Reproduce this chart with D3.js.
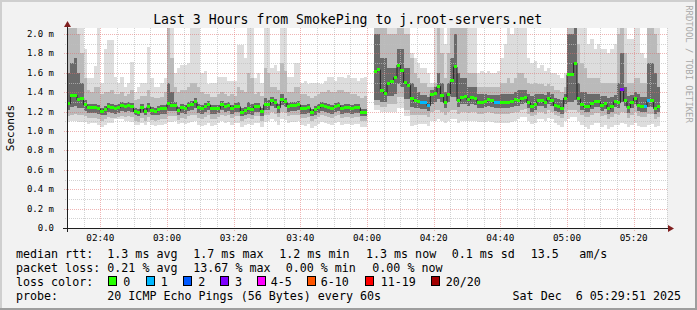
<!DOCTYPE html>
<html><head><meta charset="utf-8">
<script src="https://cdn.jsdelivr.net/npm/d3@7"></script>
<style>
body{margin:0;background:#f2f2f2}
svg{display:block}
text{font-family:"DejaVu Sans Mono",monospace;fill:#000;white-space:pre}
</style>
</head><body>
<svg id="chart" width="697" height="310"></svg>
<script>
// ---------------- DATA ----------------
const title = "Last 3 Hours from SmokePing to j.root-servers.net";
const startTime = Date.UTC(2025, 11, 6, 2, 30);   // first step
const endTime = Date.UTC(2025, 11, 6, 5, 30);     // right edge of graph
const stepMinutes = 1;
const yMax = 2.0619;
const yTickLabels = ["0.0", "0.2 m", "0.4 m", "0.6 m", "0.8 m", "1.0 m", "1.2 m", "1.4 m", "1.6 m", "1.8 m", "2.0 m"];
const yTickValues = [0, 0.2, 0.4, 0.6, 0.8, 1.0, 1.2, 1.4, 1.6, 1.8, 2.0];

// median rtt per minute (ms)
const median = [
1.28,1.37,1.37,1.32,1.34,1.27,1.24,1.24,1.24,1.23,1.20,1.22,1.25,1.24,1.23,1.24,1.26,1.25,1.26,1.25,1.20,1.19,1.24,1.20,1.25,1.21,1.20,1.22,1.23,1.23,1.28,1.26,1.26,1.21,1.24,1.23,1.26,1.27,1.30,1.24,1.23,1.25,1.27,1.23,1.23,
1.23,1.27,1.25,1.26,1.23,1.25,1.25,1.19,1.21,1.23,1.22,1.25,1.25,1.20,1.27,1.27,1.31,1.29,1.24,1.32,1.30,1.25,1.26,1.26,1.27,1.23,1.23,1.24,1.19,1.22,1.24,1.26,1.25,1.24,1.23,1.25,1.26,1.23,1.24,1.24,1.23,1.24,1.24,1.19,1.19,
null,null,
1.61,1.63,1.42,1.39,1.49,1.51,1.55,1.68,1.62,1.50,1.47,1.34,1.31,1.30,1.29,1.29,1.26,1.38,1.39,1.46,1.37,1.29,1.38,1.52,1.66,1.31,1.35,1.36,1.32,1.35,1.33,1.29,1.29,1.30,1.32,1.31,1.29,1.29,1.29,1.29,1.29,1.30,1.32,
1.31,1.33,1.35,1.29,1.25,1.27,1.31,1.31,1.29,1.34,1.31,1.26,1.25,1.23,1.34,1.58,1.58,1.70,1.33,1.27,1.25,1.25,1.28,1.30,1.30,1.26,1.28,1.23,1.25,1.30,1.29,1.43,1.31,1.24,1.29,1.34,1.26,1.25,1.25,1.31,1.31,1.23,1.25];

// lost pings (of 20) per minute
const lossCount = median.map(()=>0);
[106,107,108,128,129,173,174].forEach(i=>lossCount[i]=1);
lossCount[166]=3;

// smoke: top / bottom of outer (lightest), middle and core (darkest) bands
const smokeMax = [
2.3,2.3,2.3,2.3,2.3,1.85,1.55,1.55,1.67,2.3,1.5,1.85,1.94,1.94,1.56,1.5,1.56,1.45,1.5,1.71,1.4,1.45,1.5,1.5,1.87,1.55,1.45,1.45,1.5,1.55,2.3,2.3,1.6,1.65,1.68,1.68,1.7,2.3,2.3,2.3,1.6,1.62,1.48,1.5,1.5,
1.56,1.56,1.56,1.52,1.52,1.52,1.89,1.89,1.75,2.3,2.3,1.55,1.6,1.5,2.3,2.3,1.65,1.68,1.62,2.3,2.3,1.56,1.56,1.7,1.7,1.5,1.52,1.48,1.5,1.5,1.5,1.48,1.52,1.56,1.56,1.52,1.56,1.56,1.55,1.58,1.55,1.55,1.52,1.55,1.56,
null,null,
2.3,2.3,2.3,2.3,2.3,2.3,2.3,2.3,2.3,2.3,2.3,1.8,1.75,1.7,1.65,1.65,1.6,1.5,2.3,2.3,2.3,1.9,2.3,2.3,2.3,2.3,2.3,2.3,2.3,2.3,2.3,1.6,1.62,1.6,1.62,1.6,1.6,1.62,1.75,1.9,2.3,2.0,2.3,
2.3,2.3,2.3,1.75,1.7,1.72,1.65,1.68,1.62,1.65,1.6,1.6,1.58,1.55,1.6,2.3,2.3,2.3,2.3,2.3,2.3,1.9,1.95,1.85,1.9,1.85,1.85,1.8,1.85,1.9,2.3,2.3,2.3,1.95,1.95,2.3,2.3,1.8,1.75,2.3,2.3,2.3,2.3];
const smokeHi = [
2.3,2.3,2.3,2.0,1.8,1.55,1.42,1.40,1.45,1.45,1.38,1.4,1.4,1.42,1.38,1.38,1.4,1.36,1.38,1.42,1.32,1.33,1.36,1.36,1.42,1.35,1.34,1.34,1.35,1.4,2.3,1.75,1.45,1.4,1.42,1.42,1.45,1.5,1.5,1.45,1.4,1.38,1.38,1.35,1.35,
1.38,1.4,1.38,1.36,1.38,1.36,1.45,1.42,1.4,1.6,1.55,1.38,1.4,1.36,1.65,1.6,1.45,1.45,1.42,1.7,1.62,1.4,1.4,1.45,1.45,1.38,1.38,1.36,1.34,1.36,1.38,1.4,1.4,1.42,1.4,1.4,1.42,1.42,1.4,1.4,1.38,1.38,1.36,1.34,1.36,
null,null,
2.3,2.3,2.3,2.3,2.0,2.0,2.0,2.3,2.3,2.0,2.0,1.75,1.6,1.55,1.5,1.5,1.45,1.45,1.5,2.3,1.8,1.55,1.8,2.3,2.3,2.3,2.3,2.3,1.6,1.6,1.6,1.45,1.45,1.45,1.45,1.45,1.45,1.45,1.5,1.5,1.55,1.5,1.55,
1.6,1.6,1.55,1.5,1.48,1.5,1.48,1.48,1.46,1.48,1.46,1.42,1.42,1.4,1.45,2.3,2.3,2.3,1.9,1.7,1.65,1.55,1.55,1.55,1.55,1.5,1.5,1.5,1.5,1.5,2.0,2.3,1.8,1.5,1.5,1.55,1.55,1.5,1.5,2.3,2.3,2.0,1.8];
const smokeCore = [
1.6,1.7,1.75,1.6,1.5,1.32,1.28,1.28,1.28,1.27,1.24,1.26,1.29,1.28,1.27,1.28,1.3,1.29,1.3,1.29,1.24,1.23,1.28,1.24,1.29,1.25,1.24,1.26,1.27,1.27,1.5,1.4,1.3,1.25,1.28,1.27,1.3,1.31,1.34,1.28,1.27,1.29,1.31,1.27,1.27,
1.27,1.31,1.29,1.3,1.27,1.29,1.3,1.24,1.25,1.3,1.28,1.29,1.29,1.24,1.34,1.32,1.35,1.33,1.28,1.38,1.34,1.29,1.3,1.3,1.31,1.27,1.27,1.28,1.23,1.26,1.28,1.3,1.29,1.28,1.27,1.29,1.3,1.27,1.28,1.28,1.27,1.28,1.28,1.23,1.23,
null,null,
2.0,2.0,1.75,1.75,1.65,1.65,1.65,1.85,1.85,1.65,1.65,1.5,1.45,1.4,1.37,1.37,1.35,1.42,1.45,1.6,1.5,1.4,1.5,1.75,2.0,1.6,1.55,1.55,1.45,1.45,1.45,1.38,1.38,1.38,1.37,1.37,1.37,1.37,1.38,1.38,1.38,1.38,1.4,
1.42,1.42,1.42,1.38,1.36,1.38,1.38,1.38,1.37,1.4,1.38,1.34,1.33,1.32,1.38,2.0,2.0,2.2,1.5,1.4,1.4,1.38,1.38,1.38,1.38,1.36,1.36,1.34,1.35,1.37,1.5,1.8,1.45,1.36,1.37,1.4,1.38,1.35,1.35,1.7,1.7,1.6,1.45];
const smokeCoreLo = [
1.22,1.25,1.26,1.24,1.24,1.21,1.19,1.19,1.19,1.18,1.16,1.17,1.2,1.19,1.18,1.19,1.21,1.2,1.21,1.2,1.16,1.15,1.19,1.16,1.2,1.17,1.16,1.17,1.18,1.18,1.21,1.21,1.21,1.17,1.19,1.18,1.21,1.22,1.24,1.19,1.18,1.2,1.22,1.18,1.18,
1.19,1.22,1.2,1.21,1.18,1.2,1.2,1.15,1.17,1.18,1.17,1.2,1.2,1.15,1.22,1.22,1.26,1.24,1.19,1.27,1.25,1.2,1.21,1.21,1.22,1.18,1.18,1.19,1.15,1.17,1.19,1.21,1.2,1.19,1.18,1.2,1.21,1.18,1.19,1.19,1.18,1.19,1.19,1.15,1.15,
null,null,
1.32,1.32,1.3,1.3,1.36,1.36,1.38,1.48,1.45,1.33,1.33,1.25,1.24,1.24,1.23,1.23,1.21,1.28,1.3,1.33,1.3,1.24,1.3,1.35,1.35,1.25,1.28,1.28,1.26,1.28,1.27,1.24,1.24,1.25,1.26,1.25,1.24,1.24,1.24,1.24,1.24,1.25,1.26,
1.26,1.28,1.29,1.24,1.2,1.22,1.26,1.26,1.24,1.28,1.26,1.21,1.2,1.18,1.28,1.3,1.3,1.32,1.27,1.22,1.2,1.2,1.23,1.25,1.25,1.21,1.23,1.18,1.2,1.25,1.24,1.3,1.26,1.19,1.24,1.28,1.21,1.2,1.2,1.25,1.25,1.18,1.2];
const smokeLo = [
1.15,1.17,1.18,1.16,1.16,1.15,1.13,1.13,1.13,1.12,1.1,1.12,1.14,1.13,1.13,1.14,1.15,1.14,1.15,1.14,1.1,1.09,1.13,1.1,1.14,1.11,1.1,1.11,1.12,1.12,1.15,1.15,1.15,1.11,1.13,1.12,1.15,1.16,1.17,1.13,1.12,1.14,1.16,1.12,1.12,
1.14,1.17,1.15,1.16,1.13,1.15,1.15,1.1,1.12,1.13,1.12,1.15,1.15,1.1,1.16,1.16,1.2,1.18,1.14,1.2,1.19,1.15,1.16,1.16,1.17,1.13,1.13,1.14,1.1,1.12,1.14,1.16,1.15,1.14,1.13,1.15,1.16,1.13,1.14,1.14,1.13,1.14,1.14,1.1,1.1,
null,null,
1.27,1.27,1.25,1.25,1.28,1.28,1.28,1.35,1.35,1.22,1.22,1.17,1.17,1.17,1.16,1.16,1.14,1.2,1.22,1.22,1.2,1.17,1.2,1.22,1.22,1.18,1.2,1.2,1.19,1.2,1.2,1.18,1.18,1.19,1.2,1.19,1.18,1.18,1.18,1.18,1.18,1.19,1.2,
1.2,1.22,1.23,1.18,1.15,1.16,1.2,1.2,1.18,1.22,1.2,1.16,1.15,1.13,1.2,1.22,1.22,1.22,1.2,1.16,1.14,1.14,1.17,1.19,1.19,1.15,1.17,1.12,1.14,1.18,1.17,1.2,1.19,1.13,1.17,1.2,1.15,1.14,1.14,1.18,1.18,1.12,1.14];
const smokeMin = [
1.09,1.1,1.1,1.09,1.09,1.09,1.07,1.08,1.08,1.06,1.04,1.06,1.08,1.08,1.12,1.12,1.12,1.1,1.1,1.09,1.06,1.06,1.08,1.06,1.09,1.06,1.05,1.06,1.06,1.07,1.09,1.09,1.1,1.07,1.08,1.07,1.08,1.09,1.1,1.06,1.05,1.06,1.08,1.05,1.06,
1.08,1.1,1.08,1.09,1.06,1.08,1.08,1.04,1.06,1.07,1.06,1.08,1.08,1.04,1.09,1.1,1.12,1.1,1.06,1.12,1.11,1.08,1.09,1.09,1.1,1.06,1.05,1.07,1.03,1.05,1.07,1.09,1.08,1.07,1.06,1.08,1.09,1.06,1.07,1.07,1.06,1.07,1.07,1.04,1.04,
null,null,
1.22,1.22,1.2,1.2,1.2,1.2,1.2,1.24,1.24,1.15,1.15,1.05,1.06,1.07,1.07,1.07,1.05,1.1,1.1,1.12,1.1,1.08,1.1,1.12,1.12,1.08,1.1,1.1,1.1,1.1,1.1,1.09,1.09,1.09,1.1,1.09,1.08,1.08,1.08,1.08,1.08,1.09,1.1,
1.12,1.14,1.14,1.1,1.07,1.08,1.12,1.12,1.1,1.13,1.12,1.08,1.06,1.04,1.1,1.12,1.14,1.14,1.1,1.06,1.04,1.02,1.06,1.08,1.08,1.04,1.06,1.02,1.04,1.06,1.06,1.08,1.07,1.04,1.06,1.08,1.05,1.04,1.04,1.06,1.07,1.04,1.05];

const lossColors = ["#26ff00","#00b8ff","#0059ff","#7e00ff","#ff00ff","#ff5500","#ff0000","#a10000"];
const lossLabels = ["0","1","2","3","4-5","6-10","11-19","20/20"];

const legendRtt = ["median rtt:", "1.3 ms avg", "1.7 ms max", "1.2 ms min", "1.3 ms now", "0.1 ms sd", "13.5", "am/s"];
const legendLoss = ["packet loss:", "0.21 % avg", "13.67 % max", "0.00 % min", "0.00 % now"];
const legendProbe = ["probe:", "20 ICMP Echo Pings (56 Bytes) every 60s"];
const dateStamp = "Sat Dec  6 05:29:51 2025";
const watermark = "RRDTOOL / TOBI OETIKER";

// ---------------- LAYOUT ----------------
const W = 697, H = 310;
const plot = {x0: 67, x1: 667, y0: 28, y1: 228};
const svg = d3.select("#chart");

const x = d3.scaleUtc().domain([new Date(startTime), new Date(endTime)]).range([plot.x0, plot.x1]);
const y = d3.scaleLinear().domain([0, yMax]).range([plot.y1, plot.y0]);

// background + 3d frame
svg.append("rect").attr("width", W).attr("height", H).attr("fill", "#f2f2f2");
svg.append("path").attr("d", `M0,0H${W}V2H2V${H}H0Z`).attr("fill", "#cfcfcf");
svg.append("path").attr("d", `M${W},0V${H}H0V${H-2}H${W-2}V0Z`).attr("fill", "#9e9e9e");

// canvas
svg.append("rect").attr("x", plot.x0).attr("y", plot.y0).attr("width", plot.x1 - plot.x0).attr("height", plot.y1 - plot.y0).attr("fill", "#fff");

svg.append("defs").append("clipPath").attr("id", "clip")
  .append("rect").attr("x", plot.x0).attr("y", plot.y0).attr("width", plot.x1 - plot.x0).attr("height", plot.y1 - plot.y0);

// data rows
const rows = median.map((m, i) => ({
  t0: new Date(startTime + i * stepMinutes * 60000),
  t1: new Date(startTime + (i + 1) * stepMinutes * 60000),
  med: m, loss: lossCount[i],
  max: smokeMax[i], hi: smokeHi[i], core: smokeCore[i],
  coreLo: smokeCoreLo[i], lo: smokeLo[i], min: smokeMin[i]
}));
const stepPts = [];
rows.forEach(r => { stepPts.push({t: r.t0, r}); stepPts.push({t: r.t1, r}); });

const gData = svg.append("g").attr("clip-path", "url(#clip)");
const bands = [
  {lo: "min", hi: "max", color: "#dddddd"},
  {lo: "lo", hi: "hi", color: "#bababa"},
  {lo: "coreLo", hi: "core", color: "#6a6a6a"}
];
bands.forEach(b => {
  const area = d3.area()
    .defined(p => p.r[b.lo] != null && p.r[b.hi] != null)
    .x(p => x(p.t)).y0(p => y(p.r[b.lo])).y1(p => y(p.r[b.hi]));
  gData.append("path").attr("d", area(stepPts)).attr("fill", b.color).attr("shape-rendering", "crispEdges");
});

// grid (drawn over the smoke, like rrdtool)
const gGrid = svg.append("g");
const minorX = d3.utcMinute.every(5).range(new Date(startTime), new Date(endTime + 1));
const majorX = minorX.filter(d => d.getUTCMinutes() % 20 === 0);
const minorY = d3.range(0.1, yMax, 0.2);
minorX.forEach(d => {
  if (d.getUTCMinutes() % 20 === 0) return;
  const xx = Math.round(x(d)) + 0.5;
  gGrid.append("line").attr("x1", xx).attr("x2", xx).attr("y1", plot.y0).attr("y2", plot.y1 + 2)
    .attr("stroke", "#bfbfbf").attr("stroke-opacity", 0.7).attr("stroke-dasharray", "1,1");
});
minorY.forEach(v => {
  const yy = Math.round(y(v)) + 0.5;
  gGrid.append("line").attr("x1", plot.x0 - 2).attr("x2", plot.x1).attr("y1", yy).attr("y2", yy)
    .attr("stroke", "#bfbfbf").attr("stroke-opacity", 0.7).attr("stroke-dasharray", "1,1");
});
majorX.forEach(d => {
  const xx = Math.round(x(d)) + 0.5;
  gGrid.append("line").attr("x1", xx).attr("x2", xx).attr("y1", plot.y0).attr("y2", plot.y1 + 3)
    .attr("stroke", "#e06a6a").attr("stroke-opacity", 0.5).attr("stroke-dasharray", "1,1");
});
yTickValues.slice(1).forEach(v => {
  const yy = Math.round(y(v)) + 0.5;
  gGrid.append("line").attr("x1", plot.x0 - 3).attr("x2", plot.x1).attr("y1", yy).attr("y2", yy)
    .attr("stroke", "#e06a6a").attr("stroke-opacity", 0.5).attr("stroke-dasharray", "1,1");
});

// median staircase line
const gMed = svg.append("g").attr("clip-path", "url(#clip)");
const medLine = d3.line().defined(p => p.r.med != null).x(p => x(p.t)).y(p => y(p.r.med));
gMed.append("path").attr("d", medLine(stepPts)).attr("fill", "none").attr("stroke", "#202020").attr("stroke-width", 1);

// loss coloured median boxes
function lossIdx(l) { return l === 0 ? 0 : l === 1 ? 1 : l === 2 ? 2 : l === 3 ? 3 : l <= 5 ? 4 : l <= 10 ? 5 : l <= 19 ? 6 : 7; }
gMed.selectAll("rect.med").data(rows.filter(r => r.med != null)).join("rect")
  .attr("x", r => x(r.t0)).attr("width", r => x(r.t1) - x(r.t0))
  .attr("y", r => y(r.med) - 1.5).attr("height", 3)
  .attr("fill", r => lossColors[lossIdx(r.loss)]).attr("shape-rendering", "crispEdges");

// axes
const axisCol = "#1f1f1f", arrowCol = "#801f1f";
svg.append("line").attr("x1", plot.x0 - 4).attr("x2", plot.x1 + 3).attr("y1", plot.y1 + 0.5).attr("y2", plot.y1 + 0.5).attr("stroke", axisCol);
svg.append("line").attr("x1", plot.x0 + 0.5).attr("x2", plot.x0 + 0.5).attr("y1", plot.y1 + 4).attr("y2", plot.y0 - 3).attr("stroke", axisCol);
svg.append("path").attr("d", `M${plot.x1 + 1},${plot.y1 - 3}L${plot.x1 + 7},${plot.y1 + 0.5}L${plot.x1 + 1},${plot.y1 + 4}Z`).attr("fill", arrowCol);
svg.append("path").attr("d", `M${plot.x0 - 3},${plot.y0 - 1}L${plot.x0 + 0.5},${plot.y0 - 7}L${plot.x0 + 4},${plot.y0 - 1}Z`).attr("fill", arrowCol);

// y labels
svg.append("g").selectAll("text").data(yTickValues).join("text")
  .attr("x", 54).attr("y", v => y(v) + 3).attr("text-anchor", "end")
  .style("font-size", "9px").text((v, i) => yTickLabels[i]);

// x labels
svg.append("g").selectAll("text").data(majorX.filter(d => d > new Date(startTime) && d < new Date(endTime))).join("text")
  .attr("x", d => x(d)).attr("y", 241).attr("text-anchor", "middle")
  .style("font-size", "9.3px").text(d3.utcFormat("%H:%M"));

// title
svg.append("text").attr("x", 347.7).attr("y", 24).attr("text-anchor", "middle").style("font-size", "13.2px").text(title);

// y axis title
svg.append("text").attr("transform", "translate(14,128) rotate(-90)").attr("text-anchor", "middle").style("font-size", "11px").text("Seconds");

// watermark
svg.append("text").attr("transform", "translate(686,64) rotate(90)").attr("text-anchor", "middle")
  .style("font-size", "8.9px").style("fill", "#a8a8a8").text(watermark);

// legend
const fs = "11.66px";
const rttX = [16, 107.3, 193.3, 279.3, 366, 451.7, 530.7, 579.3];
legendRtt.forEach((s, i) => svg.append("text").attr("x", rttX[i]).attr("y", 258).style("font-size", fs).text(s));
const lossX = [16, 107.3, 193.3, 285.7, 372.3];
legendLoss.forEach((s, i) => svg.append("text").attr("x", lossX[i]).attr("y", 272).style("font-size", fs).text(s));
svg.append("text").attr("x", 16).attr("y", 286).style("font-size", fs).text("loss color:");
const boxX = [108.3, 145.7, 183.3, 220, 256.7, 307.3, 365, 430.7];
const labX = [123.3, 160.7, 198.3, 235, 270.7, 320.7, 380.7, 445.7];
lossLabels.forEach((l, i) => {
  svg.append("rect").attr("x", Math.round(boxX[i]) + 0.5).attr("y", 276.5).attr("width", 8).attr("height", 9)
    .attr("fill", lossColors[i]).attr("stroke", "#000");
  svg.append("text").attr("x", labX[i]).attr("y", 286).style("font-size", fs).text(l);
});
svg.append("text").attr("x", 16).attr("y", 300).style("font-size", fs).text(legendProbe[0]);
svg.append("text").attr("x", 107.3).attr("y", 300).style("font-size", fs).text(legendProbe[1]);
svg.append("text").attr("x", 681).attr("y", 300).attr("text-anchor", "end").style("font-size", fs).text(dateStamp);
</script>
</body></html>
